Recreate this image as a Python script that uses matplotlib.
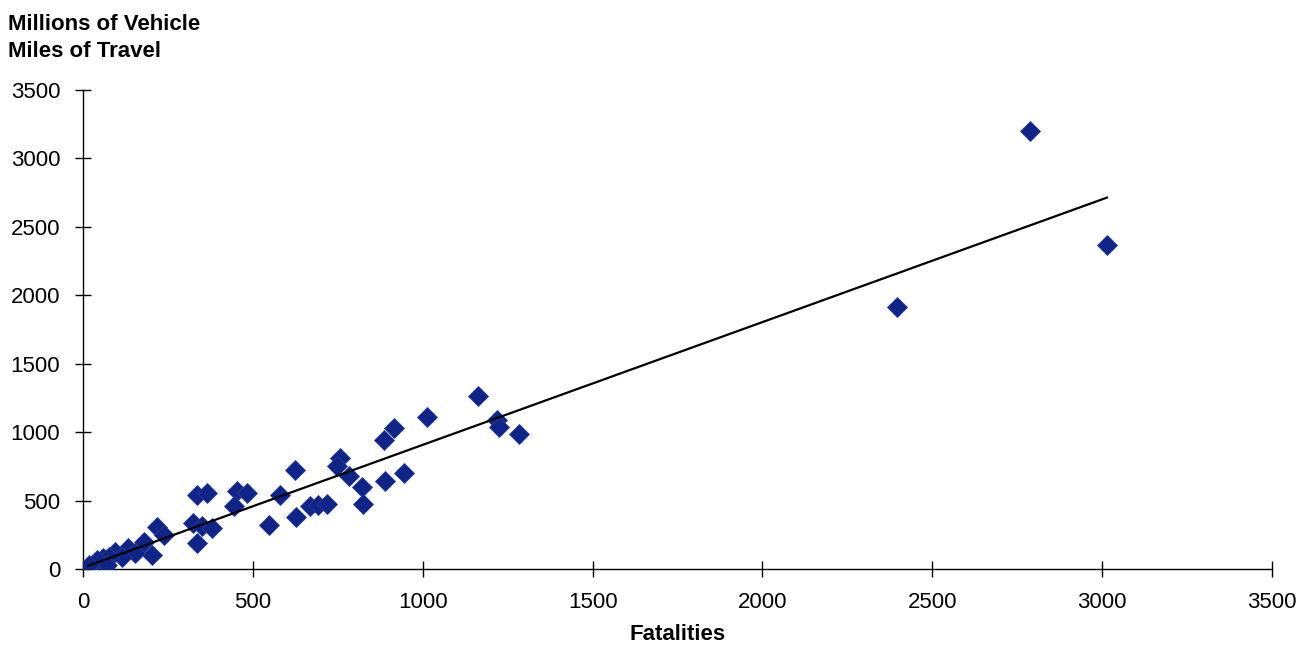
#!/usr/bin/env python3

from matplotlib import pyplot as plt
import numpy as np

plt.rcParams['font.family'] = ['Liberation Sans', 'DejaVu Sans']

# fatalities vs. millions of vehicle miles of travel
fatalities = np.array([
    2787, 3014, 2395, 1164, 1013, 1219, 1224, 1283, 914, 885,
    757, 747, 782, 623, 944, 821, 890, 824, 579, 669,
    693, 718, 628, 546, 335, 364, 453, 482, 443, 325,
    351, 380, 335, 217, 237, 178, 202, 133, 153, 94,
    114, 60, 75, 40, 70, 16,
])
vmt = np.array([
    3200, 2367, 1914, 1264, 1113, 1089, 1040, 984, 1028, 943,
    809, 753, 683, 723, 699, 601, 643, 477, 541, 458,
    468, 477, 382, 325, 541, 558, 572, 555, 458, 336,
    311, 296, 188, 309, 248, 199, 102, 151, 115, 126,
    90, 78, 90, 66, 30, 29,
])

x_ticks = [0, 500, 1000, 1500, 2000, 2500, 3000, 3500]
y_ticks = [0, 500, 1000, 1500, 2000, 2500, 3000, 3500]


def main():
    fig = plt.figure(figsize=(13.04, 6.46), dpi=100)
    ax = fig.add_axes([0.0637, 0.1192, 0.9118, 0.7415])

    ax.plot(fatalities, vmt, linestyle='none', marker='D', markersize=10.5,
            color='#0F2487', markeredgecolor='#2A3C94', markeredgewidth=0.6,
            zorder=3)

    # linear trend line across the data range
    slope, intercept = np.polyfit(fatalities, vmt, 1)
    xs = np.array([fatalities.min(), fatalities.max()])
    ax.plot(xs, slope * xs + intercept, color='black', linewidth=1.6, zorder=4)

    ax.set_xlim(0, 3500)
    ax.set_ylim(0, 3500)
    ax.set_xticks(x_ticks)
    ax.set_yticks(y_ticks)
    ax.tick_params(axis='both', direction='inout', length=11, width=1,
                   labelsize=16, colors='black')
    ax.tick_params(axis='y', pad=11)
    ax.tick_params(axis='x', pad=11)
    for side in ['top', 'right']:
        ax.spines[side].set_visible(False)
    for side in ['left', 'bottom']:
        ax.spines[side].set_linewidth(1)

    ax.set_xlabel('Fatalities', fontsize=16, fontweight='bold', labelpad=8)
    fig.text(0.006, 0.979, 'Millions of Vehicle\nMiles of Travel',
             fontsize=16, fontweight='bold', ha='left', va='top',
             linespacing=1.38)

    fig.savefig('out.png', dpi=100)


if __name__ == '__main__':
    main()
